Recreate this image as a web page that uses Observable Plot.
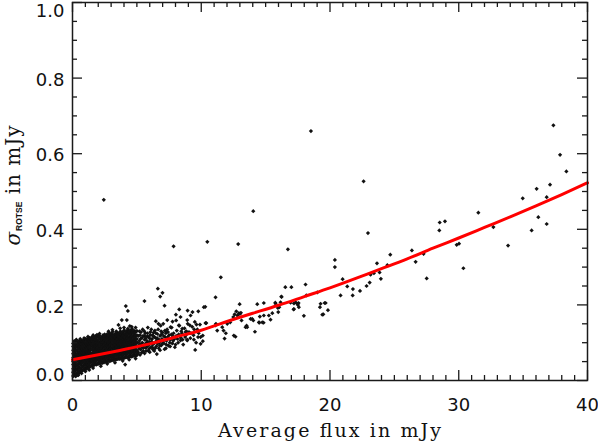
<!DOCTYPE html>
<html><head><meta charset="utf-8">
<script src="https://cdn.jsdelivr.net/npm/d3@7"></script>
<script src="https://cdn.jsdelivr.net/npm/@observablehq/plot@0.6"></script>
<style>body{margin:0;background:#fff} #chart{width:598px;height:442px;}</style>
</head><body><div id="chart"></div>
<script>
// ---- tick values / labels ----
const xMajorTicks = [0, 10, 20, 30, 40];
const xMinorTicks = [1,2,3,4,5,6,7,8,9,11,12,13,14,15,16,17,18,19,21,22,23,24,25,26,27,28,29,31,32,33,34,35,36,37,38,39];
const yMajorTicks = [0, 0.2, 0.4, 0.6, 0.8, 1.0];
const yMinorTicks = [0.05,0.1,0.15,0.25,0.3,0.35,0.45,0.5,0.55,0.65,0.7,0.75,0.85,0.9,0.95];
const xTitle = "Average flux in mJy";

// ---- fitted curve ----
const fitFlux  = [0, 2, 4, 6, 8, 10, 12, 14, 16, 18, 20, 22, 24, 26, 28, 30, 32, 34, 36, 38, 40];
const fitSigma = [0.055,0.068,0.082,0.097,0.115,0.133,0.156,0.178,0.199,0.222,0.245,0.270,0.296,0.322,0.350,0.377,0.405,0.433,0.462,0.492,0.523];

// ---- dense cluster, listed column by column: [flux, [sigma...]] ----
const clusterColumns = [
 [0.05,[0.012,0.022,0.031,0.042,0.05,0.06,0.071,0.08,0.09,0.098]],
 [0.125,[0.017,0.027,0.037,0.047,0.057,0.066,0.076,0.086,0.095,0.104]],
 [0.2,[0.016,0.026,0.035,0.045,0.055,0.064,0.073,0.083,0.094,0.102]],
 [0.275,[0.018,0.03,0.04,0.05,0.059,0.069,0.079,0.089,0.097,0.106]],
 [0.35,[0.014,0.02,0.028,0.04,0.052,0.061,0.068,0.078,0.088,0.1]],
 [0.425,[0.021,0.032,0.043,0.053,0.063,0.072,0.082,0.092,0.1]],
 [0.5,[0.019,0.025,0.036,0.047,0.058,0.066,0.075,0.086,0.095,0.104]],
 [0.575,[0.022,0.033,0.044,0.054,0.064,0.073,0.083,0.091,0.101]],
 [0.65,[0.024,0.03,0.041,0.05,0.059,0.07,0.079,0.09,0.099,0.106]],
 [0.725,[0.026,0.035,0.046,0.055,0.066,0.076,0.086,0.096,0.105]],
 [0.8,[0.027,0.038,0.049,0.056,0.062,0.072,0.081,0.092,0.103]],
 [0.875,[0.03,0.04,0.051,0.06,0.069,0.078,0.088,0.098,0.107]],
 [0.95,[0.029,0.033,0.044,0.053,0.063,0.074,0.084,0.093,0.101,0.108]],
 [1.025,[0.032,0.041,0.05,0.06,0.07,0.08,0.09,0.099,0.11]],
 [1.1,[0.031,0.036,0.046,0.057,0.067,0.076,0.086,0.096,0.106]],
 [1.175,[0.034,0.043,0.053,0.063,0.072,0.082,0.092,0.102,0.111]],
 [1.25,[0.034,0.04,0.05,0.06,0.069,0.078,0.088,0.097,0.107]],
 [1.325,[0.036,0.045,0.055,0.065,0.075,0.084,0.094,0.104,0.113]],
 [1.4,[0.037,0.048,0.058,0.068,0.08,0.09,0.1,0.109]],
 [1.475,[0.04,0.052,0.062,0.072,0.084,0.094,0.104,0.114]],
 [1.55,[0.039,0.043,0.053,0.063,0.072,0.082,0.092,0.103,0.112]],
 [1.625,[0.042,0.049,0.059,0.069,0.078,0.088,0.098,0.108,0.115]],
 [1.7,[0.041,0.045,0.055,0.065,0.075,0.085,0.094,0.104,0.11]],
 [1.775,[0.043,0.05,0.06,0.07,0.08,0.09,0.099,0.109,0.117]],
 [1.85,[0.042,0.052,0.062,0.071,0.081,0.091,0.101,0.113]],
 [1.925,[0.044,0.056,0.066,0.075,0.085,0.095,0.105,0.118]],
 [2.0,[0.044,0.047,0.057,0.067,0.077,0.087,0.097,0.108,0.116]],
 [2.075,[0.046,0.052,0.062,0.072,0.082,0.092,0.102,0.112,0.119]],
 [2.15,[0.045,0.05,0.06,0.07,0.079,0.089,0.099,0.11]],
 [2.225,[0.047,0.055,0.065,0.074,0.084,0.094,0.104,0.114]],
 [2.3,[0.046,0.056,0.066,0.076,0.086,0.096,0.105,0.115]],
 [2.375,[0.048,0.06,0.07,0.08,0.09,0.1,0.11,0.12]],
 [2.45,[0.048,0.052,0.062,0.072,0.082,0.092,0.102,0.112]],
 [2.525,[0.05,0.057,0.067,0.077,0.087,0.097,0.107,0.116]],
 [2.6,[0.049,0.059,0.069,0.079,0.088,0.098,0.109,0.118]],
 [2.675,[0.051,0.063,0.073,0.083,0.093,0.103,0.113,0.122]],
 [2.75,[0.051,0.054,0.064,0.074,0.084,0.094,0.104,0.114]],
 [2.825,[0.052,0.059,0.069,0.079,0.089,0.099,0.109,0.118,0.126]],
 [2.9,[0.051,0.061,0.071,0.081,0.091,0.101,0.111,0.12]],
 [2.975,[0.053,0.066,0.076,0.086,0.096,0.106,0.115,0.123]],
 [3.05,[0.053,0.056,0.066,0.076,0.086,0.096,0.106,0.116,0.125]],
 [3.125,[0.055,0.061,0.071,0.081,0.091,0.101,0.111,0.121,0.129]],
 [3.2,[0.054,0.058,0.068,0.078,0.088,0.098,0.108,0.118]],
 [3.275,[0.055,0.063,0.073,0.083,0.093,0.103,0.113,0.122]],
 [3.35,[0.055,0.065,0.075,0.085,0.095,0.105,0.115,0.124]],
 [3.425,[0.056,0.069,0.079,0.089,0.099,0.109,0.119,0.127]],
 [3.5,[0.057,0.06,0.07,0.08,0.09,0.1,0.11,0.12]],
 [3.575,[0.058,0.065,0.075,0.085,0.095,0.105,0.115,0.124]],
 [3.65,[0.057,0.067,0.077,0.087,0.097,0.107,0.117,0.127]],
 [3.725,[0.058,0.071,0.081,0.091,0.101,0.111,0.121,0.13]],
 [3.8,[0.059,0.062,0.072,0.082,0.092,0.102,0.112,0.122]],
 [3.875,[0.06,0.067,0.077,0.087,0.097,0.107,0.117,0.126]],
 [3.95,[0.059,0.069,0.079,0.089,0.099,0.109,0.119,0.13]],
 [4.025,[0.06,0.073,0.083,0.093,0.103,0.113,0.123,0.133]],
 [4.1,[0.061,0.064,0.074,0.084,0.094,0.104,0.114,0.124]],
 [4.175,[0.062,0.069,0.079,0.089,0.099,0.109,0.119,0.128]],
 [4.25,[0.061,0.071,0.081,0.091,0.101,0.111,0.121,0.131]],
 [4.325,[0.062,0.075,0.085,0.095,0.105,0.115,0.125,0.134]],
 [4.4,[0.063,0.066,0.076,0.086,0.096,0.106,0.116,0.126]],
 [4.475,[0.064,0.071,0.081,0.091,0.101,0.111,0.121,0.13]],
 [4.55,[0.063,0.073,0.083,0.093,0.103,0.113,0.123,0.133]],
 [4.625,[0.064,0.077,0.087,0.097,0.107,0.117,0.127,0.136]],
 [4.7,[0.065,0.068,0.078,0.088,0.098,0.108,0.118,0.128]],
 [4.775,[0.066,0.073,0.083,0.093,0.103,0.113,0.123,0.132]],
 [4.85,[0.065,0.075,0.085,0.095,0.105,0.115,0.127]],
 [4.925,[0.066,0.079,0.089,0.099,0.109,0.119,0.129]],
 [5.0,[0.067,0.07,0.08,0.09,0.1,0.11,0.12,0.131]]
];

// ---- ragged edges of cluster and low-flux outliers ----
const edgePoints = [
 [0.3,0.108],[0.6,0.11],[0.9,0.112],[1.2,0.116],[1.6,0.12],[1.9,0.121],[2.1,0.124],[2.5,0.122],[2.8,0.13],[3.1,0.134],
 [3.4,0.13],[3.7,0.138],[4.0,0.14],[4.3,0.137],[4.6,0.142],[4.9,0.14],
 [0.1,0.012],[0.25,0.011],[0.45,0.014],[0.7,0.019],[1.0,0.024],[1.3,0.028],[1.6,0.033],[2.2,0.038],[2.7,0.044],
 [3.3,0.047],[3.9,0.052],[4.4,0.055],[4.9,0.058],
 [6.63,0.243],[5.59,0.21],[4.14,0.197],[4.3,0.184],[3.83,0.16],[4.22,0.16],[3.57,0.147],[4.45,0.144],
 [6.99,0.232],[6.81,0.222],[6.47,0.157],[6.68,0.15],[4.09,0.042],[5.9,0.078],[6.55,0.07],
 [2.43,0.478],[7.85,0.355]
];

// ---- flux 5 to 11 ----
const transitionPoints = [
 [5.1,0.075],[5.15,0.09],[5.2,0.105],[5.25,0.12],[5.3,0.082],[5.35,0.097],[5.4,0.113],[5.45,0.135],[5.5,0.078],[5.55,0.093],
 [5.6,0.108],[5.65,0.125],[5.7,0.086],[5.75,0.1],[5.8,0.117],[5.85,0.14],[5.9,0.08],[5.95,0.095],[6.0,0.111],[6.05,0.128],
 [6.1,0.088],[6.15,0.103],[6.2,0.12],[6.25,0.082],[6.3,0.097],[6.35,0.115],[6.4,0.132],[6.5,0.09],[6.55,0.106],[6.6,0.123],
 [6.7,0.085],[6.75,0.1],[6.8,0.118],[6.85,0.145],[6.9,0.093],[6.95,0.11],[7.0,0.127],[7.1,0.098],[7.15,0.083],[7.2,0.115],
 [7.3,0.105],[7.35,0.135],[7.45,0.092],[7.5,0.12],[7.6,0.108],[7.7,0.14],[7.75,0.098],[7.85,0.125],[7.9,0.11],[7.95,0.088],
 [8.05,0.118],[8.1,0.132],[8.2,0.1],[8.3,0.145],[8.4,0.113],[8.5,0.125],[8.6,0.095],[8.7,0.138],[8.8,0.12],[8.9,0.108],
 [8.95,0.15],[9.05,0.128],[9.15,0.112],[9.3,0.142],[9.4,0.12],[9.5,0.155],[9.6,0.1],[9.7,0.135],[9.8,0.125],[9.9,0.148],
 [9.95,0.115],
 [5.05,0.1],[5.2,0.13],[5.4,0.088],[5.6,0.118],[5.8,0.09],[6.0,0.102],[6.2,0.095],[6.3,0.127],[6.45,0.113],[6.6,0.097],
 [6.9,0.122],[7.05,0.105],[7.25,0.125],[7.4,0.115],[7.55,0.1],[7.8,0.117],[8.15,0.11],[8.45,0.13],[8.75,0.115],
 [5.08,0.072],[5.12,0.118],[5.18,0.084],[5.22,0.096],[5.28,0.11],[5.32,0.128],[5.38,0.074],[5.42,0.1],[5.48,0.118],
 [5.52,0.086],[5.58,0.13],[5.62,0.095],[5.68,0.112],[5.72,0.078],[5.78,0.105],[5.82,0.125],[5.88,0.1],[5.92,0.115],
 [5.98,0.085],[6.02,0.12],[6.08,0.098],[6.12,0.135],[6.18,0.11],[6.22,0.087],[6.28,0.118],[6.38,0.1],[6.42,0.085],
 [6.48,0.125],[6.58,0.112],[6.65,0.135],[6.72,0.108],[6.78,0.092],[6.88,0.13],[6.98,0.098],[7.08,0.118],[7.18,0.132],
 [7.28,0.095],[7.42,0.128],[7.58,0.09],[7.68,0.122],[7.82,0.105],[8.0,0.095],[8.25,0.122],[8.55,0.108],[8.85,0.13],
 [9.2,0.125],[9.45,0.135],[9.75,0.115],
 [5.25,0.068],[5.6,0.072],[6.0,0.075],[6.35,0.078],[6.8,0.08],[7.25,0.085],
 [7.15,0.198],[8.29,0.188],[8.94,0.185],[9.32,0.181],[9.77,0.183],[10.31,0.195],[8.03,0.174],[8.39,0.168],[7.77,0.156],
 [7.36,0.16],[7.05,0.15],[8.05,0.159],[9.17,0.172],[8.91,0.16],[9.12,0.146],[9.63,0.148],[10.39,0.152],[7.3,0.13],
 [7.61,0.141],[8.26,0.146],[8.52,0.137],[8.78,0.128],[7.87,0.11],[8.39,0.106],[8.91,0.106],[9.43,0.108],[9.53,0.081],
 [10.12,0.119],[10.12,0.104],[9.95,0.097],[10.33,0.152],[10.2,0.194]
];

// ---- flux 10 to 25 ----
const midPoints = [
 [11.14,0.15],[11.63,0.141],[11.73,0.132],[11.91,0.125],[11.81,0.111],[12.66,0.116],[12.72,0.183],[12.92,0.178],
 [12.59,0.175],[13.08,0.179],[12.49,0.168],[13.13,0.159],[12.25,0.154],[12.02,0.15],[13.52,0.145],[13.44,0.141],
 [13.83,0.163],[14.04,0.159],[14.55,0.169],[14.84,0.153],[14.51,0.153],[15.38,0.161],[15.98,0.181],[16.06,0.194],
 [15.25,0.172],[14.17,0.129],[11.11,0.22],[12.98,0.202],[14.35,0.202],[14.86,0.205],[15.75,0.206],[16.53,0.247],
 [17.0,0.247],[16.22,0.222],[17.56,0.205],[17.2,0.189],[17.58,0.194],[11.52,0.273],[11.11,0.146],[11.24,0.132],
 [12.53,0.119],[12.8,0.172],[13.0,0.176],[13.57,0.141],[13.96,0.163],[14.48,0.154],[14.74,0.154],[14.86,0.172],
 [15.52,0.178],[15.77,0.203],[15.95,0.192],[16.16,0.207],[17.33,0.207],[17.46,0.203],
 [16.94,0.206],[17.2,0.204],[17.51,0.2],[17.17,0.188],[17.97,0.171],[18.16,0.225],[18.1,0.254],[19.01,0.233],
 [19.27,0.203],[19.22,0.194],[19.58,0.205],[19.4,0.174],[19.84,0.186],[19.48,0.175],[19.66,0.205],
 [20.82,0.225],[20.98,0.268],[21.34,0.249],[21.78,0.242],[21.76,0.225],[22.33,0.237],[22.84,0.25],[23.08,0.259],
 [23.15,0.28],[23.41,0.284],[23.85,0.286],[23.95,0.269],[23.65,0.31],[24.45,0.305],[24.68,0.333],[20.38,0.319],
 [20.38,0.3],[22.95,0.39],[10.47,0.367],[12.87,0.361],[14.04,0.448],[16.24,0.221],[16.73,0.347],[18.52,0.66],
 [22.61,0.527]
];

// ---- flux above 25 ----
const highPoints = [
 [26.36,0.344],[26.65,0.314],[27.27,0.335],[27.51,0.27],[28.52,0.418],[28.49,0.397],[28.93,0.421],
 [29.84,0.359],[30.02,0.362],[30.36,0.297],[31.52,0.444],[32.69,0.406],[33.83,0.357],[34.97,0.482],
 [35.66,0.397],[36.05,0.507],[36.18,0.432],[36.83,0.485],[36.83,0.414],[37.09,0.518],[37.35,0.675],
 [37.87,0.597],[38.36,0.553]
];

const points = [
  ...clusterColumns.flatMap(([f, ss]) => ss.map(s => [f, s])),
  ...edgePoints, ...transitionPoints, ...midPoints, ...highPoints
];
const fitLine = fitFlux.map((f, i) => [f, fitSigma[i]]);

const W = 598, H = 442, ML = 72, MR = 11, MT = 2, MB = 62;
const PW = W - ML - MR, PH = H - MT - MB;
const axisColor = "#1a1a1a";
const tickFont = "DejaVu Sans";
const yLabelOpts = {tickSize: 0, tickPadding: 8, fontSize: 18, fontFamily: tickFont, label: null, tickFormat: d => d.toFixed(1)};

const chart = Plot.plot({
  width: W, height: H,
  marginLeft: ML, marginRight: MR, marginTop: MT, marginBottom: MB,
  style: {fontFamily: tickFont, color: "#111", background: "#fff"},
  x: {domain: [0, 40]},
  y: {domain: [0, 1]},
  marks: [
    Plot.dot(points, {x: d => d[0], y: d => d[1], symbol: "diamond2", r: 1.9, fill: "#111", stroke: "none"}),
    Plot.line(fitLine, {x: d => d[0], y: d => d[1], stroke: "#ff0000", strokeWidth: 3, curve: "natural"}),
    Plot.frame({stroke: axisColor, strokeWidth: 1.5}),
    // inward ticks on all four sides
    Plot.ruleX(xMajorTicks, {x: d => d, insetTop: PH - 10, stroke: axisColor, strokeWidth: 1.3}),
    Plot.ruleX(xMajorTicks, {x: d => d, insetBottom: PH - 10, stroke: axisColor, strokeWidth: 1.3}),
    Plot.ruleX(xMinorTicks, {x: d => d, insetTop: PH - 5, stroke: axisColor, strokeWidth: 1.3}),
    Plot.ruleX(xMinorTicks, {x: d => d, insetBottom: PH - 5, stroke: axisColor, strokeWidth: 1.3}),
    Plot.ruleY(yMajorTicks, {y: d => d, insetRight: PW - 10, stroke: axisColor, strokeWidth: 1.3}),
    Plot.ruleY(yMajorTicks, {y: d => d, insetLeft: PW - 10, stroke: axisColor, strokeWidth: 1.3}),
    Plot.ruleY(yMinorTicks, {y: d => d, insetRight: PW - 5, stroke: axisColor, strokeWidth: 1.3}),
    Plot.ruleY(yMinorTicks, {y: d => d, insetLeft: PW - 5, stroke: axisColor, strokeWidth: 1.3}),
    // tick labels
    Plot.axisX(xMajorTicks, {tickSize: 0, tickPadding: 18, fontSize: 18, fontFamily: tickFont, label: null}),
    Plot.axisY([yMajorTicks[0]], {...yLabelOpts, dy: -5}),
    Plot.axisY(yMajorTicks.slice(1, 5), {...yLabelOpts, dy: 2}),
    Plot.axisY([yMajorTicks[5]], {...yLabelOpts, dy: 9})
  ]
});

const svg = d3.select(chart);
svg.append("text")
  .attr("x", ML + PW / 2).attr("y", 437)
  .attr("text-anchor", "middle")
  .attr("font-family", "DejaVu Serif").attr("font-size", 19)
  .attr("textLength", 223).attr("lengthAdjust", "spacing")
  .attr("fill", "#111")
  .text(xTitle);

const yl = svg.append("text")
  .attr("transform", `translate(20,${(123 + 247) / 2}) rotate(-90)`)
  .attr("text-anchor", "middle")
  .attr("font-family", "DejaVu Serif").attr("font-size", 20)
  .attr("fill", "#111");
yl.append("tspan").attr("font-style", "italic").text("σ");
yl.append("tspan").attr("font-family", "Liberation Sans").attr("font-weight", "bold")
  .attr("font-size", 8.5).attr("dy", 1.5).attr("dx", 1).text("ROTSE");
yl.append("tspan").attr("dy", -1.5).attr("letter-spacing", 1).text(" in mJy");

document.getElementById("chart").appendChild(chart);
</script>
</body></html>
